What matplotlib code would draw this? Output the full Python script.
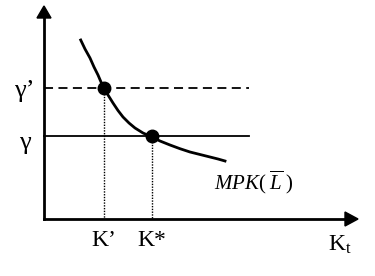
import matplotlib
matplotlib.use("Agg")
import matplotlib.pyplot as plt
from matplotlib.patches import Polygon
import numpy as np

# Data (in image-like coordinates: x to the right, y downward)
curve_x = [80.7, 85, 90, 94, 98, 101, 104.3, 108, 113, 118, 123, 129, 135, 143, 152, 160, 170, 180, 190, 200, 210, 218, 225]
curve_y = [40, 49, 58, 67, 75, 82, 88.3, 95, 103, 110.5, 117, 123, 128, 133, 137, 141, 145, 148.7, 152, 154.5, 157, 159, 161]
eq_x = [104, 152]          # K', K*
eq_y = [88, 136]           # gamma', gamma
level_labels = ["γ’", "γ"]
k_labels = ["K’", "K*"]
axis_label = r"$\mathrm{K_t}$"
curve_label = r"$MPK(\;\overline{L}\;)$"

plt.rcParams['mathtext.fontset'] = 'custom'
plt.rcParams['mathtext.rm'] = 'Liberation Serif'
plt.rcParams['mathtext.it'] = 'Liberation Serif:italic'
plt.rcParams['font.family'] = ['Liberation Serif', 'DejaVu Serif']

fig = plt.figure(figsize=(3.75, 2.76), dpi=100)
ax = fig.add_axes([0, 0, 1, 1])
ax.set_xlim(0, 375)
ax.set_ylim(276, 0)
ax.axis('off')

x0, y0 = 44, 219
# axes
ax.plot([x0, x0], [y0, 14], color='black', lw=2)
ax.plot([x0, 350], [y0, y0], color='black', lw=2)
ax.add_patch(Polygon([[x0 - 7, 18], [x0 + 7, 18], [x0, 6]], closed=True, color='black'))
ax.add_patch(Polygon([[345, y0 - 7], [345, y0 + 7], [358, y0]], closed=True, color='black'))

# horizontal lines
ax.plot([x0, 249], [eq_y[0], eq_y[0]], color='black', lw=1.3, ls=(0, (5, 3)))
ax.plot([x0, 249], [eq_y[1], eq_y[1]], color='black', lw=1.3)

# dotted verticals
for xe, ye in zip(eq_x, eq_y):
    ax.plot([xe, xe], [ye, y0], color='black', lw=1.0, ls=(0, (1, 1)))

# curve
ax.plot(curve_x, curve_y, color='black', lw=2, solid_joinstyle='round')
ax.plot(eq_x, eq_y, 'o', color='black', ms=9)

# labels
ax.text(24, eq_y[0] + 3, level_labels[0], fontsize=19, ha='center', va='center')
ax.text(25, eq_y[1] + 7, level_labels[1], fontsize=19, ha='center', va='center')
for xe, lab in zip(eq_x, k_labels):
    ax.text(xe, 241, lab, fontsize=17, ha='center', va='center')
ax.text(340, 245, axis_label, fontsize=17, ha='center', va='center')
ax.text(254, 182, curve_label, fontsize=15, ha='center', va='center')

fig.savefig("out.png", dpi=100)
